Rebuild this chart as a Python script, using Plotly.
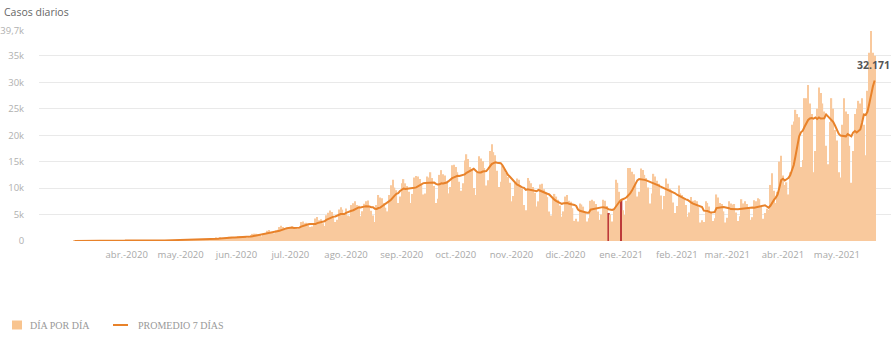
import pandas as pd
import plotly.graph_objects as go

# ---------------- data ----------------
fecha_inicio = "2020-03-03"  # first day (Tuesday)

# daily new cases, one row per week (Tue .. Mon)
casos_por_semana = [
    [1, 0, 1, 6, 2, 0, 3],
    [4, 2, 12, 3, 11, 11, 11],
    [9, 14, 18, 30, 30, 67, 41],
    [35, 86, 87, 101, 55, 75, 146],
    [88, 167, 132, 98, 102, 88, 75],
    [87, 96, 115, 68, 108, 83, 102],
    [147, 131, 113, 81, 123, 90, 112],
    [136, 153, 172, 112, 111, 173, 115],
    [158, 143, 145, 123, 111, 165, 188],
    [240, 175, 132, 200, 345, 244, 234],
    [316, 308, 285, 248, 216, 255, 229],
    [471, 474, 703, 600, 718, 552, 535],
    [570, 713, 797, 795, 735, 640, 564],
    [904, 949, 929, 840, 808, 560, 703],
    [1141, 1346, 1391, 1386, 1282, 1226, 885],
    [1374, 1393, 1958, 2060, 1634, 1581, 1443],
    [1987, 2146, 2635, 2886, 2631, 2189, 2400],
    [2262, 2667, 2744, 2456, 2590, 2339, 2632],
    [3604, 3663, 3367, 3449, 2979, 2657, 2727],
    [3099, 4250, 4518, 3937, 4127, 3375, 2841],
    [4890, 5344, 5782, 5493, 4557, 3582, 3997],
    [5939, 6377, 5929, 5241, 6134, 4824, 4690],
    [6792, 7147, 7513, 6787, 6663, 4688, 5641],
    [7043, 7498, 7663, 6365, 5700, 4800, 3600],
    [6800, 8700, 8200, 8100, 7200, 6300, 5600],
    [8700, 10550, 11600, 10100, 9600, 7200, 8400],
    [10900, 11700, 10900, 10400, 9300, 7200, 8900],
    [12000, 12300, 12200, 11700, 10700, 8800, 9000],
    [12200, 12000, 13000, 11900, 10400, 7200, 8000],
    [12500, 13400, 12600, 12400, 11300, 9000, 10200],
    [14300, 14400, 14000, 13000, 11200, 9500, 10900],
    [15200, 16400, 15500, 14000, 13600, 10000, 8700],
    [12900, 16000, 15600, 15100, 13800, 10500, 11500],
    [17000, 18300, 16800, 16200, 13300, 10200, 11200],
    [14300, 13600, 12900, 12100, 11000, 7500, 8500],
    [11100, 11800, 11600, 10600, 9900, 6800, 5800],
    [11900, 11400, 10900, 10200, 9100, 6500, 7500],
    [10700, 10800, 9800, 8900, 8300, 5600, 4800],
    [8000, 8900, 8400, 7800, 6700, 4600, 5600],
    [8400, 8700, 7600, 7400, 6200, 3800, 4200],
    [3700, 7100, 6900, 6500, 5300, 3700, 4300],
    [7600, 7800, 7500, 7000, 5600, 4000, 5000],
    [7800, 7600, 6600, 5300, 5000, 3700, 6000],
    [11600, 11000, 9300, 7700, 5800, 4900, 7600],
    [13800, 13800, 13100, 12600, 11000, 8400, 9300],
    [13700, 13400, 12500, 11900, 10100, 7100, 9000],
    [12700, 12200, 11400, 10800, 8600, 6000, 8500],
    [11800, 10800, 9900, 9600, 7300, 5300, 6600],
    [10500, 9000, 8700, 8100, 6800, 4600, 5400],
    [8300, 7600, 7700, 7500, 6400, 3500, 3900],
    [3600, 7500, 7200, 6500, 5400, 3800, 4300],
    [8800, 8200, 7200, 7000, 5600, 3500, 4400],
    [7500, 7100, 6900, 7000, 5400, 3800, 4700],
    [7900, 7100, 7500, 7000, 6300, 4000, 4500],
    [7700, 7500, 8100, 7900, 6600, 4200, 5300],
    [6100, 5900, 10600, 12800, 9500, 7200, 9300],
    [15000, 16100, 12400, 10600, 11100, 8800, 13000],
    [22000, 22600, 24800, 24000, 23400, 14000, 15300],
    [27000, 27000, 29500, 26000, 24000, 13000, 17000],
    [25000, 29000, 28000, 26000, 24500, 18000, 14500],
    [22500, 27000, 25000, 21000, 19000, 13000, 12000],
    [22000, 27000, 24500, 24000, 18000, 11000, 17000],
    [24000, 25000, 26500, 26000, 27000, 22000, 16200],
    [28400, 35600, 39700, 35600, 35000],
]

feriados = ["2020-12-25", "2021-01-01"]  # highlighted days

ultimo_promedio_texto = "32.171"

y_tickvals = [0, 5000, 10000, 15000, 20000, 25000, 30000, 35000, 39700]
y_ticktext = ["0", "5k", "10k", "15k", "20k", "25k", "30k", "35k", "39,7k"]

x_tickvals = ["2020-04-01", "2020-05-01", "2020-06-01", "2020-07-01", "2020-08-01",
              "2020-09-01", "2020-10-01", "2020-11-01", "2020-12-01", "2021-01-01",
              "2021-02-01", "2021-03-01", "2021-04-01", "2021-05-01"]
x_ticktext = ["abr.-2020", "may.-2020", "jun.-2020", "jul.-2020", "ago.-2020",
              "sep.-2020", "oct.-2020", "nov.-2020", "dic.-2020", "ene.-2021",
              "feb.-2021", "mar.-2021", "abr.-2021", "may.-2021"]

# ---------------- derived ----------------
casos = [v for semana in casos_por_semana for v in semana]
fechas = pd.date_range(fecha_inicio, periods=len(casos), freq="D")
promedio = pd.Series(casos).rolling(7, min_periods=1).mean()

COLOR_BAR = "#f9c99d"
COLOR_RED = "#bd3a3a"
COLOR_LINE = "#e8822a"
DAY_MS = 86400000
fer = set(pd.to_datetime(feriados))
bar_colors = [COLOR_RED if f in fer else COLOR_BAR for f in fechas]
bar_widths = [DAY_MS * 1.3 if f in fer else DAY_MS * 0.72 for f in fechas]

# layout geometry (pixels)
W, H = 891, 340
L, R, T, B = 39, 0, 31, 99
PW, PH = W - L - R, H - T - B


def px(x):
    return (x - L) / PW


def py(y):
    return (H - B - y) / PH


fig = go.Figure()
fig.add_trace(go.Bar(x=fechas, y=casos, width=bar_widths,
                     marker=dict(color=bar_colors, line=dict(width=0)),
                     name="DÍA POR DÍA", showlegend=False))
fig.add_trace(go.Scatter(x=fechas, y=promedio, mode="lines",
                         line=dict(color=COLOR_LINE, width=2),
                         name="PROMEDIO 7 DÍAS", showlegend=False))

fig.update_layout(
    width=W, height=H, margin=dict(l=L, r=R, t=T, b=B),
    paper_bgcolor="white", plot_bgcolor="white",
    font=dict(family="Open Sans", color="#aaaaaa"),
    xaxis=dict(range=["2020-02-12 05:00", "2021-05-31 02:00"],
               tickvals=x_tickvals, ticktext=x_ticktext,
               tickfont=dict(size=9.5, color="#a8a8a8", family="Open Sans"),
               showgrid=False, zeroline=False, showline=False,
               ticks="outside", ticklen=5, tickcolor="rgba(0,0,0,0)"),
    yaxis=dict(range=[0, 39700], tickvals=y_tickvals, ticktext=y_ticktext,
               tickfont=dict(size=9.5, color="#b0b0b0", family="Open Sans"),
               showgrid=True, gridcolor="#e9e9e9", gridwidth=1,
               zeroline=False, showline=False,
               ticks="outside", ticklen=12, tickcolor="rgba(0,0,0,0)"),
    shapes=[
        dict(type="rect", xref="paper", yref="paper",
             x0=px(12), x1=px(22), y0=py(329.5), y1=py(320.5),
             fillcolor="#f8c48f", line=dict(width=0)),
        dict(type="line", xref="paper", yref="paper",
             x0=px(113), x1=px(128), y0=py(325), y1=py(325),
             line=dict(color=COLOR_LINE, width=2)),
    ],
    annotations=[
        dict(text="Casos diarios", xref="paper", yref="paper", x=px(2), y=py(11.5),
             xanchor="left", yanchor="middle", showarrow=False,
             font=dict(size=10.5, color="#666666", family="Open Sans")),
        dict(text="<b>" + ultimo_promedio_texto + "</b>", xref="paper", yref="paper",
             x=px(892), y=py(65), xanchor="right", yanchor="middle", showarrow=False,
             font=dict(size=10.5, color="#555555", family="Open Sans")),
        dict(text="DÍA POR DÍA", xref="paper", yref="paper", x=px(28), y=py(325),
             xanchor="left", yanchor="middle", showarrow=False,
             font=dict(size=10, color="#999999", family="Liberation Serif")),
        dict(text="PROMEDIO 7 DÍAS", xref="paper", yref="paper", x=px(136), y=py(325),
             xanchor="left", yanchor="middle", showarrow=False,
             font=dict(size=10, color="#999999", family="Liberation Serif")),
    ],
)

fig.write_html("out.html")
